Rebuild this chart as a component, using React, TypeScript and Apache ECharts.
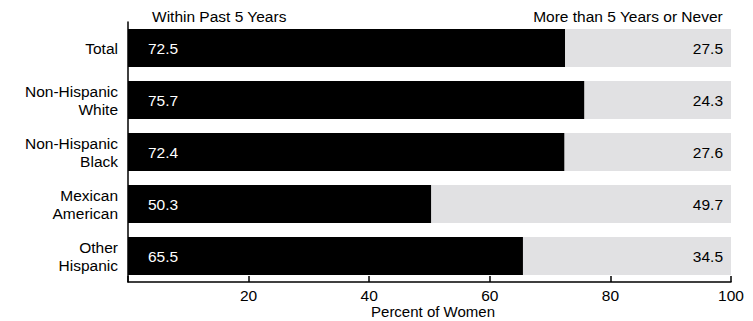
import React, { useEffect, useRef } from "react";
import * as echarts from "echarts";

const categories = ["Total", "Non-Hispanic\nWhite", "Non-Hispanic\nBlack", "Mexican\nAmerican", "Other\nHispanic"];
const withinPast5 = [72.5, 75.7, 72.4, 50.3, 65.5];
const moreThan5 = [27.5, 24.3, 27.6, 49.7, 34.5];
const xTicks = [20, 40, 60, 80, 100];
const seriesNames = ["Within Past 5 Years", "More than 5 Years or Never"];
const axisTitle = "Percent of Women";

export default function App() {
  const ref = useRef<HTMLDivElement>(null);
  useEffect(() => {
    if (!ref.current) return;
    const chart = echarts.init(ref.current, undefined, { renderer: "svg" });
    const font = "Liberation Sans, Arial, Helvetica, sans-serif";
    const fs = 15.5;
    chart.setOption({
      animation: false,
      textStyle: { fontFamily: font },
      grid: { left: 128, right: 22, top: 22, bottom: 39, containLabel: false, outerBoundsMode: "none" },
      xAxis: {
        type: "value",
        min: 0,
        max: 100,
        interval: 20,
        axisLine: { show: true, lineStyle: { color: "#000", width: 1.5 } },
        axisTick: { show: true, inside: true, length: 6, lineStyle: { color: "#000", width: 1.5 } },
        axisLabel: {
          color: "#000",
          fontSize: fs,
          lineHeight: 15,
          margin: 6,
          fontFamily: font,
          formatter: (v: number) => (xTicks.includes(v) ? String(v) : ""),
        },
        splitLine: { show: false },
      },
      yAxis: {
        type: "category",
        data: categories,
        inverse: true,
        axisLine: { show: true, lineStyle: { color: "#000", width: 1.5 } },
        axisTick: { show: false },
        axisLabel: { color: "#000", fontSize: fs, margin: 10, lineHeight: 18, fontFamily: font },
      },
      series: [
        {
          name: seriesNames[0],
          type: "bar",
          stack: "total",
          data: withinPast5,
          barCategoryGap: "27%",
          itemStyle: { color: "#000" },
          label: {
            show: true,
            position: "insideLeft",
            distance: 20,
            color: "#fff",
            fontSize: fs,
            fontFamily: font,
            formatter: (p: any) => p.value.toFixed(1),
          },
        },
        {
          name: seriesNames[1],
          type: "bar",
          stack: "total",
          data: moreThan5,
          barCategoryGap: "27%",
          itemStyle: { color: "#e1e1e3" },
          label: {
            show: true,
            position: "insideRight",
            distance: 8,
            color: "#000",
            fontSize: fs,
            fontFamily: font,
            formatter: (p: any) => p.value.toFixed(1),
          },
        },
      ],
      graphic: [
        {
          type: "text",
          left: 152,
          top: 8,
          style: { text: seriesNames[0], fontSize: fs, fill: "#000", fontFamily: font },
        },
        {
          type: "text",
          right: 30,
          top: 8,
          style: { text: seriesNames[1], fontSize: fs, fill: "#000", fontFamily: font },
        },
        {
          type: "text",
          x: 433,
          y: 311.5,
          style: {
            text: axisTitle,
            fontSize: 15,
            lineHeight: 15,
            fill: "#000",
            fontFamily: font,
            align: "center",
            verticalAlign: "middle",
          },
        },
      ],
    });
    return () => chart.dispose();
  }, []);
  return <div ref={ref} style={{ width: 753, height: 321, position: "absolute", left: 0, top: 0 }} />;
}
